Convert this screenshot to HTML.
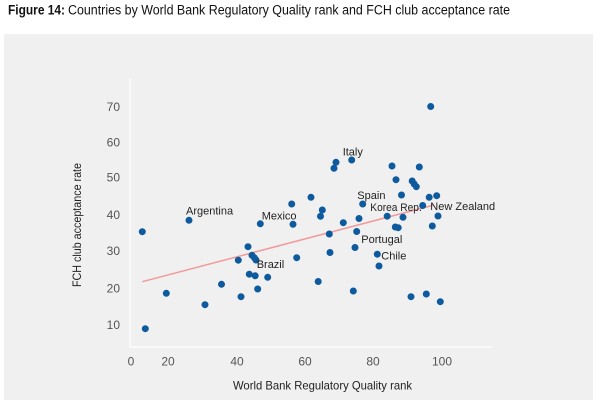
<!DOCTYPE html>
<html><head><meta charset="utf-8"><style>
html,body{margin:0;padding:0;background:#fff;}
svg{display:block;font-family:"Liberation Sans",sans-serif;}
</style></head><body>
<svg width="600" height="400" viewBox="0 0 600 400" xmlns="http://www.w3.org/2000/svg">
<rect x="0" y="0" width="600" height="400" fill="#ffffff"/>
<text x="8" y="14.5" font-size="13.5" font-weight="bold" fill="#111" textLength="57" lengthAdjust="spacingAndGlyphs">Figure 14:</text>
<text x="68" y="14.5" font-size="13.5" fill="#111" textLength="442" lengthAdjust="spacingAndGlyphs">Countries by World Bank Regulatory Quality rank and FCH club acceptance rate</text>
<rect x="4" y="34" width="589" height="366" fill="#f0f0f0"/>
<path d="M130 78V347H492" fill="none" stroke="#ffffff" stroke-width="1.2"/>
<g font-size="12" fill="#555" text-anchor="end">
<text x="120" y="111">70</text>
<text x="120" y="146.5">60</text>
<text x="120" y="181.5">50</text>
<text x="120" y="219">40</text>
<text x="120" y="255">30</text>
<text x="120" y="292.5">20</text>
<text x="120" y="329">10</text>
</g>
<g font-size="12" fill="#555" text-anchor="middle">
<text x="131" y="365.5">0</text>
<text x="168" y="365.5">20</text>
<text x="237" y="365.5">40</text>
<text x="305" y="365.5">60</text>
<text x="373" y="365.5">80</text>
<text x="442" y="365.5">100</text>
</g>
<text x="233" y="389.5" font-size="12" fill="#222" textLength="179" lengthAdjust="spacingAndGlyphs">World Bank Regulatory Quality rank</text>
<text transform="translate(81,287) rotate(-90)" font-size="12" fill="#222" textLength="124" lengthAdjust="spacingAndGlyphs">FCH club acceptance rate</text>
<path d="M142.3 281.7L434 205" stroke="#f29a9a" stroke-width="1.5" fill="none"/>
<path fill="none" stroke="#0d5a9e" stroke-width="7" stroke-linecap="round" d="M142.3 231.7h0M145.3 328.7h0M166.3 293.3h0M189 220.3h0M205 304.7h0M221.5 284.3h0M238.3 260.2h0M241 296.7h0M248 246.7h0M249.3 274.2h0M252 255.3h0M254.3 257.7h0M256 260h0M255.2 275.8h0M257.7 289h0M260.3 223.8h0M267.7 277.3h0M291.7 204h0M293 224.3h0M296.7 257.7h0M311 197.3h0M318.2 281.5h0M320.5 216.3h0M322.3 210h0M329.3 234h0M330 252.5h0M334 168.3h0M336 162.3h0M343.3 222.7h0M351.7 160h0M353.3 291h0M355 247.5h0M356.7 231.5h0M359 218.5h0M362.7 204h0M377.3 254.2h0M379 266h0M387.2 216.2h0M392 166h0M395.3 227h0M398.2 227.7h0M396 179.7h0M401.5 195h0M403 217.3h0M411 296.7h0M412.2 181h0M414.2 184h0M416.3 186.7h0M419.3 167h0M422.7 205.5h0M426.3 294h0M429.2 197.3h0M430.7 106.5h0M432.3 226h0M436.7 195.7h0M438 216h0M440.3 301.7h0"/>
<g font-size="11" fill="#222">
<text x="186" y="214.5">Argentina</text>
<text x="261.7" y="219.5">Mexico</text>
<text x="342.7" y="155.5">Italy</text>
<text x="357.3" y="199">Spain</text>
<text x="370.3" y="211" textLength="51.5" lengthAdjust="spacingAndGlyphs">Korea Rep.</text>
<text x="430.3" y="210">New Zealand</text>
<text x="361.3" y="243">Portugal</text>
<text x="381.3" y="259.5">Chile</text>
<text x="256.7" y="268">Brazil</text>
</g>
</svg>
</body></html>
